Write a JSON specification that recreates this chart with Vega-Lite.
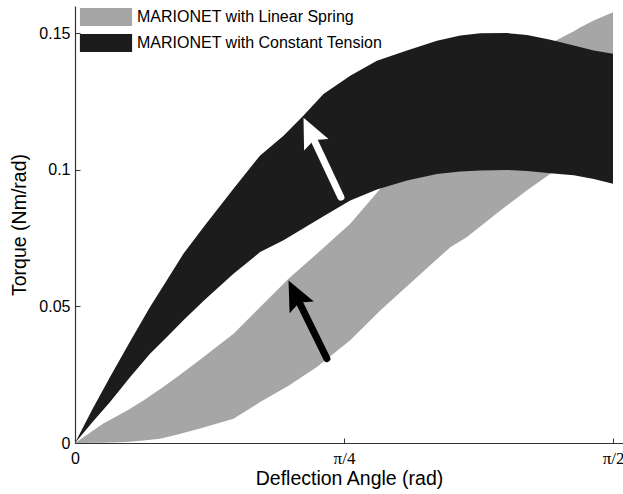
{
  "$schema": "https://vega.github.io/schema/vega-lite/v6.json",
  "width": 548,
  "height": 437,
  "autosize": "none",
  "padding": {"left": 75, "top": 6, "right": 0, "bottom": 51},
  "background": "white",
  "config": {
    "view": {"stroke": null},
    "font": "Liberation Sans",
    "axis": {
      "grid": false,
      "domainColor": "#333333",
      "tickColor": "#333333",
      "labelColor": "#000000",
      "titleColor": "#000000",
      "labelFont": "Liberation Sans",
      "titleFont": "Liberation Sans",
      "labelFontSize": 16,
      "titleFontSize": 19.5,
      "titleFontWeight": "normal",
      "tickSize": -5,
      "domainWidth": 1.2
    }
  },
  "datasets": {
    "bands": [
      {"s": "MARIONET with Linear Spring", "x": 0, "lo": 0, "hi": 0},
      {"s": "MARIONET with Linear Spring", "x": 0.0828, "lo": 0.0001, "hi": 0.0071},
      {"s": "MARIONET with Linear Spring", "x": 0.151, "lo": 0.0004, "hi": 0.0118},
      {"s": "MARIONET with Linear Spring", "x": 0.1997, "lo": 0.0009, "hi": 0.0156},
      {"s": "MARIONET with Linear Spring", "x": 0.248, "lo": 0.0016, "hi": 0.0197},
      {"s": "MARIONET with Linear Spring", "x": 0.297, "lo": 0.003, "hi": 0.0241},
      {"s": "MARIONET with Linear Spring", "x": 0.365, "lo": 0.0053, "hi": 0.0305},
      {"s": "MARIONET with Linear Spring", "x": 0.4627, "lo": 0.0089, "hi": 0.04},
      {"s": "MARIONET with Linear Spring", "x": 0.5406, "lo": 0.015, "hi": 0.0498},
      {"s": "MARIONET with Linear Spring", "x": 0.6234, "lo": 0.021, "hi": 0.0601},
      {"s": "MARIONET with Linear Spring", "x": 0.7062, "lo": 0.0278, "hi": 0.0693},
      {"s": "MARIONET with Linear Spring", "x": 0.8036, "lo": 0.0376, "hi": 0.0803},
      {"s": "MARIONET with Linear Spring", "x": 0.8913, "lo": 0.0485, "hi": 0.0931},
      {"s": "MARIONET with Linear Spring", "x": 1.0, "lo": 0.0609, "hi": 0.105},
      {"s": "MARIONET with Linear Spring", "x": 1.0958, "lo": 0.0717, "hi": 0.1155},
      {"s": "MARIONET with Linear Spring", "x": 1.1445, "lo": 0.0754, "hi": 0.1205},
      {"s": "MARIONET with Linear Spring", "x": 1.242, "lo": 0.0851, "hi": 0.1305},
      {"s": "MARIONET with Linear Spring", "x": 1.3199, "lo": 0.0925, "hi": 0.1385},
      {"s": "MARIONET with Linear Spring", "x": 1.3881, "lo": 0.0986, "hi": 0.146},
      {"s": "MARIONET with Linear Spring", "x": 1.4027, "lo": 0.0998, "hi": 0.1473},
      {"s": "MARIONET with Linear Spring", "x": 1.4563, "lo": 0.1045, "hi": 0.1508},
      {"s": "MARIONET with Linear Spring", "x": 1.4758, "lo": 0.106, "hi": 0.1522},
      {"s": "MARIONET with Linear Spring", "x": 1.5147, "lo": 0.109, "hi": 0.1547},
      {"s": "MARIONET with Linear Spring", "x": 1.5708, "lo": 0.113, "hi": 0.1577},
      {"s": "MARIONET with Constant Tension", "x": 0, "lo": 0, "hi": 0},
      {"s": "MARIONET with Constant Tension", "x": 0.05, "lo": 0.0075, "hi": 0.0122},
      {"s": "MARIONET with Constant Tension", "x": 0.1023, "lo": 0.015, "hi": 0.0242},
      {"s": "MARIONET with Constant Tension", "x": 0.16, "lo": 0.024, "hi": 0.037},
      {"s": "MARIONET with Constant Tension", "x": 0.219, "lo": 0.0327, "hi": 0.0498},
      {"s": "MARIONET with Constant Tension", "x": 0.27, "lo": 0.039, "hi": 0.06},
      {"s": "MARIONET with Constant Tension", "x": 0.3166, "lo": 0.0449, "hi": 0.0693},
      {"s": "MARIONET with Constant Tension", "x": 0.375, "lo": 0.052, "hi": 0.079},
      {"s": "MARIONET with Constant Tension", "x": 0.4627, "lo": 0.062, "hi": 0.0931},
      {"s": "MARIONET with Constant Tension", "x": 0.5406, "lo": 0.0699, "hi": 0.1053},
      {"s": "MARIONET with Constant Tension", "x": 0.6088, "lo": 0.0742, "hi": 0.1125},
      {"s": "MARIONET with Constant Tension", "x": 0.6672, "lo": 0.0786, "hi": 0.1199},
      {"s": "MARIONET with Constant Tension", "x": 0.7256, "lo": 0.083, "hi": 0.1278},
      {"s": "MARIONET with Constant Tension", "x": 0.8036, "lo": 0.0888, "hi": 0.1345},
      {"s": "MARIONET with Constant Tension", "x": 0.8815, "lo": 0.0928, "hi": 0.14},
      {"s": "MARIONET with Constant Tension", "x": 0.9692, "lo": 0.0961, "hi": 0.1437},
      {"s": "MARIONET with Constant Tension", "x": 1.0569, "lo": 0.0985, "hi": 0.1473},
      {"s": "MARIONET with Constant Tension", "x": 1.1251, "lo": 0.0994, "hi": 0.1492},
      {"s": "MARIONET with Constant Tension", "x": 1.1835, "lo": 0.0998, "hi": 0.15},
      {"s": "MARIONET with Constant Tension", "x": 1.2615, "lo": 0.1, "hi": 0.1501},
      {"s": "MARIONET with Constant Tension", "x": 1.3199, "lo": 0.0996, "hi": 0.1494},
      {"s": "MARIONET with Constant Tension", "x": 1.3881, "lo": 0.0988, "hi": 0.1476},
      {"s": "MARIONET with Constant Tension", "x": 1.4563, "lo": 0.098, "hi": 0.1455},
      {"s": "MARIONET with Constant Tension", "x": 1.5147, "lo": 0.0967, "hi": 0.1437},
      {"s": "MARIONET with Constant Tension", "x": 1.5708, "lo": 0.0949, "hi": 0.1425}
    ],
    "arrows": [
      {"col": "#ffffff", "tx": 0.7764, "ty": 0.09, "sx": 0.6859, "sy": 0.1141, "hx": 0.6672, "hy": 0.1191, "ang": 334.8},
      {"col": "#000000", "tx": 0.7355, "ty": 0.0309, "sx": 0.6426, "sy": 0.0546, "hx": 0.6234, "hy": 0.0595, "ang": 333.9}
    ]
  },
  "layer": [
    {
      "data": {"name": "bands"},
      "transform": [{"filter": "datum.s === 'MARIONET with Linear Spring'"}],
      "mark": {"type": "area", "opacity": 1, "strokeWidth": 0},
      "encoding": {
        "x": {"field": "x", "type": "quantitative", "scale": {"domain": [0, 1.6], "nice": false, "zero": false},
          "axis": {"values": [0, 0.785398, 1.570796],
            "labelExpr": "datum.value < 0.1 ? '0' : (datum.value < 1 ? 'π/4' : 'π/2')",
            "labelFont": {"condition": {"test": "datum.value > 0.1", "value": "Liberation Serif"}, "value": "Liberation Sans"},
            "labelFontSize": {"condition": {"test": "datum.value > 0.1", "value": 17}, "value": 16},
            "labelAlign": {"condition": {"test": "datum.value > 1.5", "value": "right"}, "value": "center"},
            "labelOffset": {"condition": {"test": "datum.value > 1.5", "value": 11}, "value": 0},
            "labelPadding": 12, "title": "Deflection Angle (rad)", "titlePadding": 3, "labelFlush": false}},
        "y": {"field": "lo", "type": "quantitative", "scale": {"domain": [0, 0.16], "nice": false},
          "axis": {"values": [0, 0.05, 0.1, 0.15], "format": ".2~f", "labelPadding": 10, "title": "Torque (Nm/rad)", "titlePadding": 9}},
        "y2": {"field": "hi"},
        "color": {"field": "s", "type": "nominal",
          "scale": {"domain": ["MARIONET with Linear Spring", "MARIONET with Constant Tension"], "range": ["#a6a6a6", "#1c1c1c"]},
          "legend": {"title": null, "orient": "none", "legendX": 22, "legendY": 2,
            "symbolType": "M-2.9,-1H2.9V1H-2.9Z", "symbolSize": 324, "symbolStrokeWidth": 0, "symbolOpacity": 1,
            "labelFontSize": 16, "labelFont": "Liberation Sans", "labelColor": "#000000", "labelLimit": 0, "labelOffset": 22, "rowPadding": 8, "padding": 0}}
      }
    },
    {
      "data": {"name": "bands"},
      "transform": [{"filter": "datum.s === 'MARIONET with Constant Tension'"}],
      "mark": {"type": "area", "opacity": 1, "strokeWidth": 0},
      "encoding": {
        "x": {"field": "x", "type": "quantitative"},
        "y": {"field": "lo", "type": "quantitative"},
        "y2": {"field": "hi"},
        "color": {"field": "s", "type": "nominal"}
      }
    },
    {
      "data": {"name": "arrows"},
      "mark": {"type": "rule", "strokeWidth": 7, "strokeCap": "round"},
      "encoding": {
        "x": {"field": "tx", "type": "quantitative"},
        "y": {"field": "ty", "type": "quantitative"},
        "x2": {"field": "sx"},
        "y2": {"field": "sy"},
        "stroke": {"field": "col", "type": "nominal", "scale": null}
      }
    },
    {
      "data": {"name": "arrows"},
      "mark": {"type": "point", "shape": "M0,0L0.45,1L0,0.82L-0.45,1Z", "filled": true, "size": 3600, "opacity": 1, "strokeWidth": 0},
      "encoding": {
        "x": {"field": "hx", "type": "quantitative"},
        "y": {"field": "hy", "type": "quantitative"},
        "fill": {"field": "col", "type": "nominal", "scale": null},
        "angle": {"field": "ang", "type": "quantitative", "scale": null}
      }
    }
  ]
}
